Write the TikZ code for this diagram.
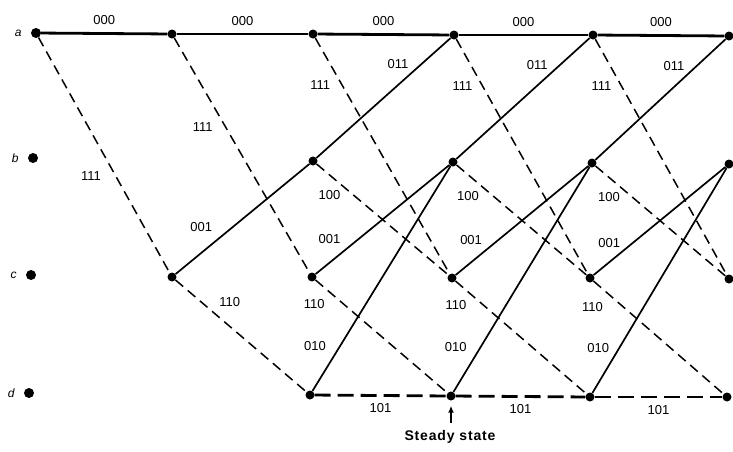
\documentclass[tikz,border=0pt]{standalone}
\usepackage{fontspec}
\setmainfont{Liberation Sans}
\usetikzlibrary{arrows.meta,positioning}

\begin{document}
\begin{tikzpicture}[x=1pt,y=-1pt,>=Latex,
  every node/.style={font=\fontsize{13}{13}\selectfont,inner sep=1pt},
  st/.style={circle,fill,inner sep=0pt,minimum size=9pt},
  zero/.style={line width=1.7pt},
  one/.style={line width=1.5pt,dash pattern=on 10pt off 6pt},
  topline/.style={line width=2.8pt},
  bottomline/.style={line width=2.8pt,dash pattern=on 16pt off 7pt}]
\useasboundingbox (0,0) rectangle (733,451);
% state markers at the left
\node[st,minimum size=10pt] (a0) at (36,33) {};
\node[st,minimum size=10pt] (b0) at (33,158) {};
\node[st,minimum size=10pt] (c0) at (31,275) {};
\node[st,minimum size=10pt] (d0) at (29,393) {};
\node[left=8pt of a0,font=\itshape\fontsize{12}{12}\selectfont] (la) {a};
\node[left=8pt of b0,font=\itshape\fontsize{12}{12}\selectfont] (lb) {b};
\node[left=8pt of c0,font=\itshape\fontsize{12}{12}\selectfont] (lc) {c};
\node[left=8pt of d0,font=\itshape\fontsize{12}{12}\selectfont] (ld) {d};
% trellis nodes
\node[st] (a1) at (172,34) {};
\node[st] (c1) at (172,277) {};
\node[st] (a2) at (313,34) {};
\node[st] (b2) at (313,161) {};
\node[st] (c2) at (312,277) {};
\node[st] (d2) at (310,395) {};
\node[st] (a3) at (454,35) {};
\node[st] (b3) at (453,162) {};
\node[st] (c3) at (452,278) {};
\node[st] (d3) at (451,396) {};
\node[st] (a4) at (593,35) {};
\node[st] (b4) at (592,163) {};
\node[st] (c4) at (590,278) {};
\node[st] (d4) at (590,397) {};
\node[st] (a5) at (729,36) {};
\node[st] (b5) at (729,164) {};
\node[st] (c5) at (729,279) {};
\node[st] (d5) at (727,397) {};
% first two steps
\draw[topline] (a0)--node[yshift=13pt]{000}(a1);
\draw[one] (a0)--node[pos=.59,xshift=-25pt]{111}(c1);
\draw[topline] (a1)--node[yshift=13pt]{000}(a2);
\draw[one] (a1)--node[pos=.38,xshift=-23pt]{111}(c2);
\draw[zero] (c1)--node[pos=.43,xshift=-32pt]{001}(b2);
\draw[one] (c1)--node[pos=.2,xshift=28pt]{110}(d2);
% step 3
\draw[topline] (a2)--node[yshift=13pt]{000}(a3);
\draw[one] (a2)--node[pos=.2,xshift=-22pt]{111}(c3);
\draw[zero] (b2)--node[pos=.78,xshift=-23pt]{011}(a3);
\draw[one] (b2)--node[pos=.28,xshift=-24pt]{100}(c3);
\draw[zero] (c2)--node[pos=.32,xshift=-29pt]{001}(b3);
\draw[one] (c2)--node[pos=.21,xshift=-29pt]{110}(d3);
\draw[zero] (d2)--node[pos=.2,xshift=-25pt]{010}(b3);
\draw[bottomline] (d2)--node[yshift=-13pt]{101}(d3);
% step 4
\draw[topline] (a3)--node[yshift=13pt]{000}(a4);
\draw[one] (a3)--node[pos=.2,xshift=-20pt]{111}(c4);
\draw[zero] (b3)--node[pos=.78,xshift=-23pt]{011}(a4);
\draw[one] (b3)--node[pos=.28,xshift=-25pt]{100}(c4);
\draw[zero] (c3)--node[pos=.32,xshift=-27pt]{001}(b4);
\draw[one] (c3)--node[pos=.21,xshift=-27pt]{110}(d4);
\draw[zero] (d3)--node[pos=.2,xshift=-25pt]{010}(b4);
\draw[bottomline] (d3)--node[yshift=-13pt]{101}(d4);
% step 5
\draw[topline] (a4)--node[yshift=13pt]{000}(a5);
\draw[one] (a4)--node[pos=.2,xshift=-20pt]{111}(c5);
\draw[zero] (b4)--node[pos=.78,xshift=-23pt]{011}(a5);
\draw[one] (b4)--node[pos=.28,xshift=-23pt]{100}(c5);
\draw[zero] (c4)--node[pos=.3,xshift=-24pt]{001}(b5);
\draw[one] (c4)--node[pos=.23,xshift=-31pt]{110}(d5);
\draw[zero] (d4)--node[pos=.2,xshift=-21pt]{010}(b5);
\draw[bottomline] (d4)--node[yshift=-13pt]{101}(d5);
% steady state mark
\node[font=\bfseries\fontsize{14}{14}\selectfont\addfontfeature{LetterSpace=6}] (ss) at (450,437) {Steady state};
\coordinate[below=22pt of d3] (sstail);
\draw[-{Latex[length=7pt,width=6pt]},line width=2pt,shorten >=5pt] (sstail)--(d3);
\end{tikzpicture}
\end{document}
